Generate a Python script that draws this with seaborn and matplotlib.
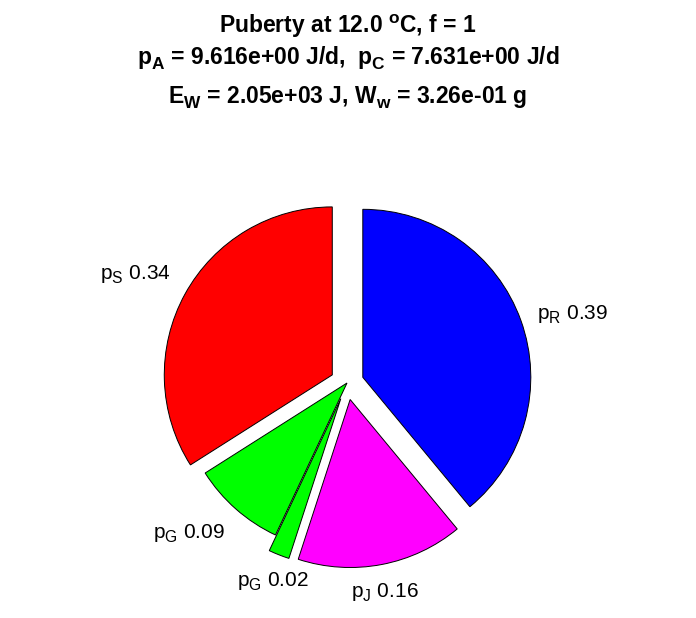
import math
import matplotlib
matplotlib.use("Agg")
import matplotlib.pyplot as plt
import matplotlib._mathtext as _mt
import seaborn as sns

# ---- data ----
flux_names = ["R", "J", "G", "G", "S"]
flux_fracs = [0.39, 0.16, 0.02, 0.09, 0.34]
slice_colors = ["#0000ff", "#ff00ff", "#00ff00", "#00ff00", "#ff0000"]
explode_flags = [1, 1, 1, 0, 1]

temp_C = 12.0
f_food = 1
p_A = 9.616
p_C = 7.631
E_W = 2.05e3
W_w = 3.26e-1

# MATLAB-like subscripts: a bit larger and lower
try:
    _mt.FontConstantsBase.sub1 = 0.45
    _mt.FontConstantsBase.sub2 = 0.6
    _mt.SHRINK_FACTOR = 0.75
except Exception:
    pass

sns.set_theme(style="white")
plt.rcParams["font.family"] = ["Liberation Sans", "DejaVu Sans"]
plt.rcParams["mathtext.fontset"] = "custom"
plt.rcParams["mathtext.rm"] = "Liberation Sans"
plt.rcParams["mathtext.it"] = "Liberation Sans"
plt.rcParams["mathtext.bf"] = "Liberation Sans:bold"

W, H = 696, 618
fig = plt.figure(figsize=(W / 100, H / 100), dpi=100, facecolor="white")

R_px = 168.0
cx, cy = 347.0, 383.0
half = 200.0
ax = fig.add_axes([(cx - half) / W, (H - cy - half) / H, 2 * half / W, 2 * half / H])

labels = [r"$\mathregular{p_%s}$ %.2f" % (n, v) for n, v in zip(flux_names, flux_fracs)]
wedges, texts = ax.pie(
    flux_fracs,
    colors=slice_colors,
    explode=[0.1 * e for e in explode_flags],
    labels=labels,
    labeldistance=1.1,
    startangle=90,
    counterclock=False,
    wedgeprops=dict(edgecolor="black", linewidth=0.7),
    textprops=dict(fontsize=15, color="black"),
)

for w, t in zip(wedges, texts):
    th = math.radians((w.theta1 + w.theta2) / 2)
    c, s = math.cos(th), math.sin(th)
    if abs(c) < 0.5:
        t.set_ha("center")
    else:
        t.set_ha("left" if c > 0 else "right")
    if s < -0.3:
        t.set_va("top")
    elif s > 0.4:
        t.set_va("bottom")
    else:
        t.set_va("center")

lim = half / R_px
ax.set_xlim(-lim, lim)
ax.set_ylim(-lim, lim)
ax.set_aspect("equal")
ax.axis("off")

title_lines = [
    r"Puberty at %.1f $\mathbf{^{o}}$C, f = %d" % (temp_C, f_food),
    r"$\mathbf{p_A}$ = %.3e J/d,  $\mathbf{p_C}$ = %.3e J/d" % (p_A, p_C),
    r"$\mathbf{E_W}$ = %.2e J, $\mathbf{W_w}$ = %.2e g" % (E_W, W_w),
]
baselines = [33, 64, 103]
for line, yb in zip(title_lines, baselines):
    fig.text(0.5, 1 - yb / H, line, ha="center", va="baseline",
             fontsize=16.5, fontweight="bold", color="black")

fig.savefig("out.png", dpi=100, facecolor="white")
